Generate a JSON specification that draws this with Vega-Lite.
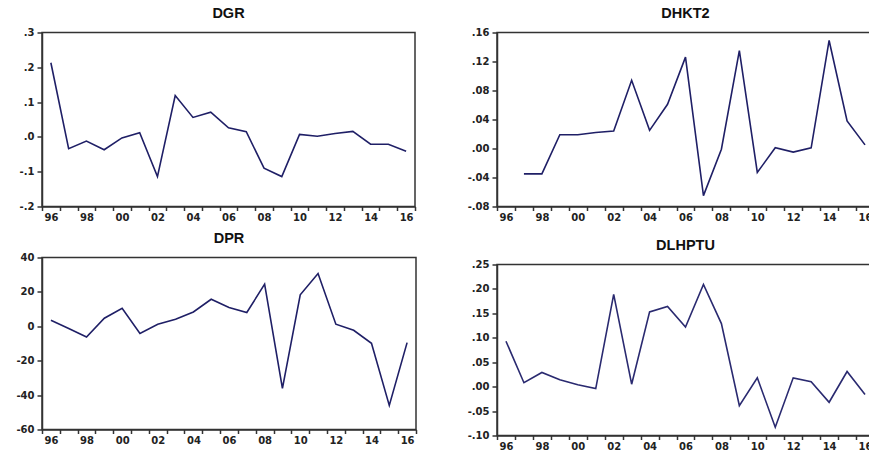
{
  "$schema": "https://vega.github.io/schema/vega-lite/v6.json",
  "padding": {"left": 15, "top": 4.5, "right": 0, "bottom": 0},
  "background": "white",
  "datasets": {
    "d": [
      {"year": 1996, "DGR": 0.213, "DHKT2": null, "DPR": 3.5, "DLHPTU": 0.093},
      {"year": 1997, "DGR": -0.034, "DHKT2": -0.035, "DPR": -1.3, "DLHPTU": 0.008},
      {"year": 1998, "DGR": -0.012, "DHKT2": -0.035, "DPR": -6.2, "DLHPTU": 0.029},
      {"year": 1999, "DGR": -0.037, "DHKT2": 0.019, "DPR": 4.7, "DLHPTU": 0.014},
      {"year": 2000, "DGR": -0.003, "DHKT2": 0.019, "DPR": 10.5, "DLHPTU": 0.004},
      {"year": 2001, "DGR": 0.012, "DHKT2": 0.022, "DPR": -4.1, "DLHPTU": -0.004},
      {"year": 2002, "DGR": -0.114, "DHKT2": 0.024, "DPR": 1.2, "DLHPTU": 0.189},
      {"year": 2003, "DGR": 0.119, "DHKT2": 0.094, "DPR": 4.1, "DLHPTU": 0.005},
      {"year": 2004, "DGR": 0.056, "DHKT2": 0.025, "DPR": 8.3, "DLHPTU": 0.153},
      {"year": 2005, "DGR": 0.071, "DHKT2": 0.061, "DPR": 15.7, "DLHPTU": 0.164},
      {"year": 2006, "DGR": 0.026, "DHKT2": 0.126, "DPR": 10.9, "DLHPTU": 0.122},
      {"year": 2007, "DGR": 0.015, "DHKT2": -0.065, "DPR": 8.0, "DLHPTU": 0.209},
      {"year": 2008, "DGR": -0.09, "DHKT2": -0.001, "DPR": 24.5, "DLHPTU": 0.129},
      {"year": 2009, "DGR": -0.114, "DHKT2": 0.135, "DPR": -36.1, "DLHPTU": -0.039},
      {"year": 2010, "DGR": 0.007, "DHKT2": -0.033, "DPR": 18.3, "DLHPTU": 0.018},
      {"year": 2011, "DGR": 0.002, "DHKT2": 0.001, "DPR": 30.7, "DLHPTU": -0.083},
      {"year": 2012, "DGR": 0.01, "DHKT2": -0.005, "DPR": 1.2, "DLHPTU": 0.018},
      {"year": 2013, "DGR": 0.016, "DHKT2": 0.001, "DPR": -2.3, "DLHPTU": 0.01},
      {"year": 2014, "DGR": -0.021, "DHKT2": 0.149, "DPR": -9.9, "DLHPTU": -0.032},
      {"year": 2015, "DGR": -0.021, "DHKT2": 0.038, "DPR": -46.0, "DLHPTU": 0.031},
      {"year": 2016, "DGR": -0.041, "DHKT2": 0.005, "DPR": -9.5, "DLHPTU": -0.016}
    ]
  },
  "data": {"name": "d"},
  "spacing": 48,
  "hconcat": [
    {
      "spacing": 51,
      "bounds": "flush",
      "vconcat": [
        {
          "title": "DGR",
          "width": 373,
          "height": 174,
          "mark": {"type": "line", "color": "#1f1f66", "strokeWidth": 1.6},
          "encoding": {
            "x": {"field": "year", "type": "ordinal", "bandPosition": 0.5,
              "scale": {"type": "band", "domain": [1996,1997,1998,1999,2000,2001,2002,2003,2004,2005,2006,2007,2008,2009,2010,2011,2012,2013,2014,2015,2016], "paddingInner": 0, "paddingOuter": 0},
              "axis": {"title": null, "tickBand": "extent", "labelAngle": 0, "labelOverlap": false, "labelExpr": "datum.value % 2 == 0 ? substring('' + datum.value, 2) : ''"}},
            "y": {"field": "DGR", "type": "quantitative",
              "scale": {"domain": [-0.2, 0.3], "nice": false, "zero": false},
              "axis": {"title": null, "values": [-0.2, -0.1, 0, 0.1, 0.2, 0.3], "labelExpr": "replace(replace(format(datum.value, '.1f'), '0.', '.'), '\u2212', '-')"}}
          }
        },
        {
          "title": "DPR",
          "width": 374,
          "height": 172,
          "mark": {"type": "line", "color": "#1f1f66", "strokeWidth": 1.6},
          "encoding": {
            "x": {"field": "year", "type": "ordinal", "bandPosition": 0.5,
              "scale": {"type": "band", "domain": [1996,1997,1998,1999,2000,2001,2002,2003,2004,2005,2006,2007,2008,2009,2010,2011,2012,2013,2014,2015,2016], "paddingInner": 0, "paddingOuter": 0},
              "axis": {"title": null, "tickBand": "extent", "labelAngle": 0, "labelOverlap": false, "labelExpr": "datum.value % 2 == 0 ? substring('' + datum.value, 2) : ''"}},
            "y": {"field": "DPR", "type": "quantitative",
              "scale": {"domain": [-60, 40], "nice": false, "zero": false},
              "axis": {"title": null, "values": [-60, -40, -20, 0, 20, 40], "labelExpr": "replace(format(datum.value, 'd'), '\u2212', '-')"}}
          }
        }
      ]
    },
    {
      "spacing": 58,
      "bounds": "flush",
      "vconcat": [
        {
          "title": "DHKT2",
          "width": 377,
          "height": 174,
          "mark": {"type": "line", "color": "#1f1f66", "strokeWidth": 1.6},
          "encoding": {
            "x": {"field": "year", "type": "ordinal", "bandPosition": 0.5,
              "scale": {"type": "band", "domain": [1996,1997,1998,1999,2000,2001,2002,2003,2004,2005,2006,2007,2008,2009,2010,2011,2012,2013,2014,2015,2016], "paddingInner": 0, "paddingOuter": 0},
              "axis": {"title": null, "tickBand": "extent", "labelAngle": 0, "labelOverlap": false, "labelExpr": "datum.value % 2 == 0 ? substring('' + datum.value, 2) : ''"}},
            "y": {"field": "DHKT2", "type": "quantitative",
              "scale": {"domain": [-0.08, 0.16], "nice": false, "zero": false},
              "axis": {"title": null, "values": [-0.08, -0.04, 0, 0.04, 0.08, 0.12, 0.16], "labelExpr": "replace(replace(format(datum.value, '.2f'), '0.', '.'), '\u2212', '-')"}}
          }
        },
        {
          "title": "DLHPTU",
          "width": 377,
          "height": 171,
          "mark": {"type": "line", "color": "#2a2a70", "strokeWidth": 1.6},
          "encoding": {
            "x": {"field": "year", "type": "ordinal", "bandPosition": 0.5,
              "scale": {"type": "band", "domain": [1996,1997,1998,1999,2000,2001,2002,2003,2004,2005,2006,2007,2008,2009,2010,2011,2012,2013,2014,2015,2016], "paddingInner": 0, "paddingOuter": 0},
              "axis": {"title": null, "tickBand": "extent", "labelAngle": 0, "labelOverlap": false, "labelExpr": "datum.value % 2 == 0 ? substring('' + datum.value, 2) : ''"}},
            "y": {"field": "DLHPTU", "type": "quantitative",
              "scale": {"domain": [-0.1, 0.25], "nice": false, "zero": false},
              "axis": {"title": null, "values": [-0.1, -0.05, 0, 0.05, 0.1, 0.15, 0.2, 0.25], "labelExpr": "replace(replace(format(datum.value, '.2f'), '0.', '.'), '\u2212', '-')"}}
          }
        }
      ]
    }
  ],
  "config": {
    "view": {"stroke": "#333333", "strokeWidth": 1.5},
    "axis": {"grid": false, "domainColor": "#333333", "domainWidth": 1.5, "tickColor": "#333333", "tickWidth": 1.5,
      "labelFont": "DejaVu Sans", "labelFontWeight": "bold", "labelFontSize": 10, "labelColor": "#222222"},
    "axisX": {"tickSize": 4, "labelPadding": 2},
    "axisY": {"tickSize": 5, "labelPadding": 3},
    "title": {"font": "Liberation Sans", "fontSize": 14.5, "fontWeight": "bold", "color": "#111111", "offset": 6.5, "anchor": "middle"}
  }
}
